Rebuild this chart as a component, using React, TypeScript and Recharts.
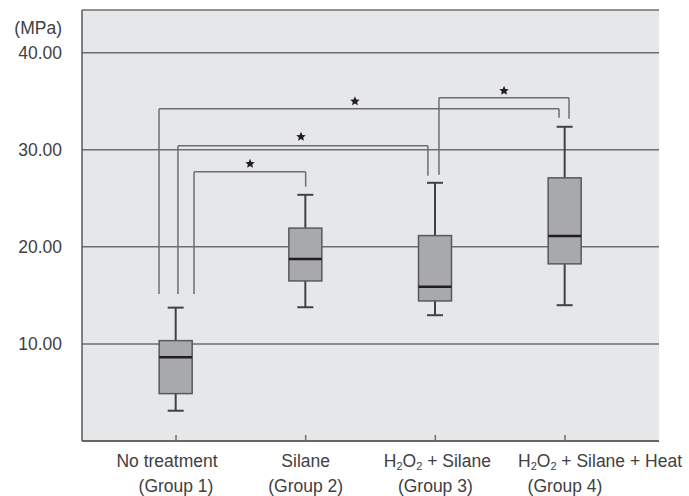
import React from 'react';
import {
  ComposedChart,
  Bar,
  XAxis,
  YAxis,
  CartesianGrid,
  ReferenceLine,
  ReferenceDot,
  Label
} from 'recharts';

// groups, their x positions and axis captions
const groups = ['Group 1', 'Group 2', 'Group 3', 'Group 4'];
const groupPos = [0, 1, 2, 3];
const treatments = ['No treatment', 'Silane', 'H2O2 + Silane', 'H2O2 + Silane + Heat'];
const captionShift = [-9, 0, 2, 35];

// box plot statistics, MPa
const lowWhisker = [3.12, 13.78, 12.96, 13.99];
const q1 = [4.88, 16.49, 14.43, 18.25];
const median = [8.63, 18.76, 15.9, 21.13];
const q3 = [10.34, 21.93, 21.16, 27.11];
const highWhisker = [13.74, 25.36, 26.6, 32.37];

const yTicks = [10, 20, 30, 40];

// significance brackets, x in group index units
const bracketLeftX = [-0.131, 0.015, 0.139, 2.028];
const bracketRightX = [2.954, 1.943, 1.0, 3.031];
const bracketTop = [34.23, 30.41, 27.73, 35.36];
const bracketLeftEnd = [15.15, 15.15, 15.15, 27.42];
const bracketRightEnd = [33.3, 27.32, 26.2, 33.2];
const starX = [1.38, 0.964, 0.571, 2.53];
const starY = [35.0, 31.34, 28.56, 36.08];

const FONT = '"Liberation Sans", Arial, sans-serif';
const TEXT = '#414042';
const LINE = '#6d6e71';

const data = groups.map((g, i) => ({
  group: g,
  pos: groupPos[i],
  range: [lowWhisker[i], highWhisker[i]],
  low: lowWhisker[i],
  q1: q1[i],
  median: median[i],
  q3: q3[i],
  high: highWhisker[i]
}));

const BoxShape = (props: any) => {
  const { x, y, width, height, payload } = props;
  const top = Math.min(y, y + height);
  const h = Math.abs(height);
  const { low, high } = payload;
  const py = (v: number) => top + ((high - v) / (high - low)) * h;
  const cx = x + width / 2;
  const cap = 8;
  return (
    <g>
      <line x1={cx} x2={cx} y1={py(high)} y2={py(payload.q3)} stroke={TEXT} strokeWidth={2} />
      <line x1={cx} x2={cx} y1={py(payload.q1)} y2={py(low)} stroke={TEXT} strokeWidth={2} />
      <line x1={cx - cap} x2={cx + cap} y1={py(high)} y2={py(high)} stroke={TEXT} strokeWidth={2} />
      <line x1={cx - cap} x2={cx + cap} y1={py(low)} y2={py(low)} stroke={TEXT} strokeWidth={2} />
      <rect
        x={x}
        y={py(payload.q3)}
        width={width}
        height={py(payload.q1) - py(payload.q3)}
        fill="#a7a9ac"
        stroke="#58595b"
        strokeWidth={1.5}
      />
      <line x1={x} x2={x + width} y1={py(payload.median)} y2={py(payload.median)} stroke="#231f20" strokeWidth={2.5} />
    </g>
  );
};

// digits in the formula become small subscripts
const renderChem = (s: string) => {
  let low = false;
  return s.split(/(\d)/).filter((p) => p !== '').map((part, k) => {
    const isSub = /\d/.test(part);
    const dy = isSub && !low ? 3 : !isSub && low ? -3 : 0;
    low = isSub;
    return (
      <tspan key={k} dy={dy} fontSize={isSub ? 11 : undefined}>{part}</tspan>
    );
  });
};

const GroupTick = (props: any) => {
  const { x, y, payload } = props;
  const i = groupPos.indexOf(payload.value);
  if (i < 0) return null;
  return (
    <g>
      <line x1={x} x2={x} y1={y} y2={y - 6} stroke={LINE} strokeWidth={1.5} />
      <text x={x + captionShift[i]} y={y + 26} textAnchor="middle" fontSize={17.5} fontFamily={FONT} fill={TEXT}>
        {renderChem(treatments[i])}
      </text>
      <text x={x} y={y + 51} textAnchor="middle" fontSize={17.5} fontFamily={FONT} fill={TEXT}>
        ({groups[i]})
      </text>
    </g>
  );
};

const Star = (props: any) => {
  const { cx, cy } = props;
  const pts: string[] = [];
  for (let k = 0; k < 10; k++) {
    const r = k % 2 === 0 ? 5 : 2.3;
    const a = -Math.PI / 2 + (k * Math.PI) / 5;
    pts.push(`${cx + r * Math.cos(a)},${cy + r * Math.sin(a)}`);
  }
  return <polygon points={pts.join(' ')} fill="#231f20" />;
};

const UnitLabel = (props: any) => {
  const { viewBox } = props;
  return (
    <text x={viewBox.x + 62} y={viewBox.y + 24} textAnchor="end" fontSize={17.5} fontFamily={FONT} fill={TEXT}>
      (MPa)
    </text>
  );
};

export default function App() {
  return (
    <div style={{ position: 'absolute', left: 0, top: 0, background: '#fff' }}>
      <ComposedChart width={689} height={496} data={data} margin={{ top: 10, right: 30, bottom: 0, left: 0 }}>
        <CartesianGrid vertical={false} fill="#e6e7e8" fillOpacity={1} stroke={LINE} strokeWidth={1.5} />
        <XAxis
          dataKey="pos"
          type="number"
          domain={[-0.725, 3.725]}
          ticks={groupPos}
          allowDataOverflow
          height={55}
          axisLine={{ stroke: '#58595b', strokeWidth: 1.5 }}
          tickLine={false}
          tickSize={0}
          tickMargin={0}
          interval={0}
          tick={<GroupTick />}
        />
        <YAxis
          width={82}
          domain={[0, 44.4]}
          ticks={yTicks}
          allowDataOverflow
          axisLine={{ stroke: '#58595b', strokeWidth: 1.5 }}
          tickLine={false}
          tickSize={6}
          tickMargin={14}
          tickFormatter={(v: number) => v.toFixed(2)}
          tick={{ fontSize: 17.5, fontFamily: FONT, fill: TEXT }}
        >
          <Label content={<UnitLabel />} />
        </YAxis>
        {bracketLeftX.map((lx, i) => (
          <ReferenceLine
            key={`l${i}`}
            segment={[{ x: lx, y: bracketLeftEnd[i] }, { x: lx, y: bracketTop[i] }]}
            stroke={LINE}
            strokeWidth={1.5}
          />
        ))}
        {bracketLeftX.map((lx, i) => (
          <ReferenceLine
            key={`t${i}`}
            segment={[{ x: lx, y: bracketTop[i] }, { x: bracketRightX[i], y: bracketTop[i] }]}
            stroke={LINE}
            strokeWidth={1.5}
          />
        ))}
        {bracketRightX.map((rx, i) => (
          <ReferenceLine
            key={`r${i}`}
            segment={[{ x: rx, y: bracketTop[i] }, { x: rx, y: bracketRightEnd[i] }]}
            stroke={LINE}
            strokeWidth={1.5}
          />
        ))}
        {starX.map((sx, i) => (
          <ReferenceDot key={`s${i}`} x={sx} y={starY[i]} r={5} shape={<Star />} />
        ))}
        <Bar dataKey="range" barSize={33} shape={<BoxShape />} isAnimationActive={false} />
      </ComposedChart>
    </div>
  );
}
